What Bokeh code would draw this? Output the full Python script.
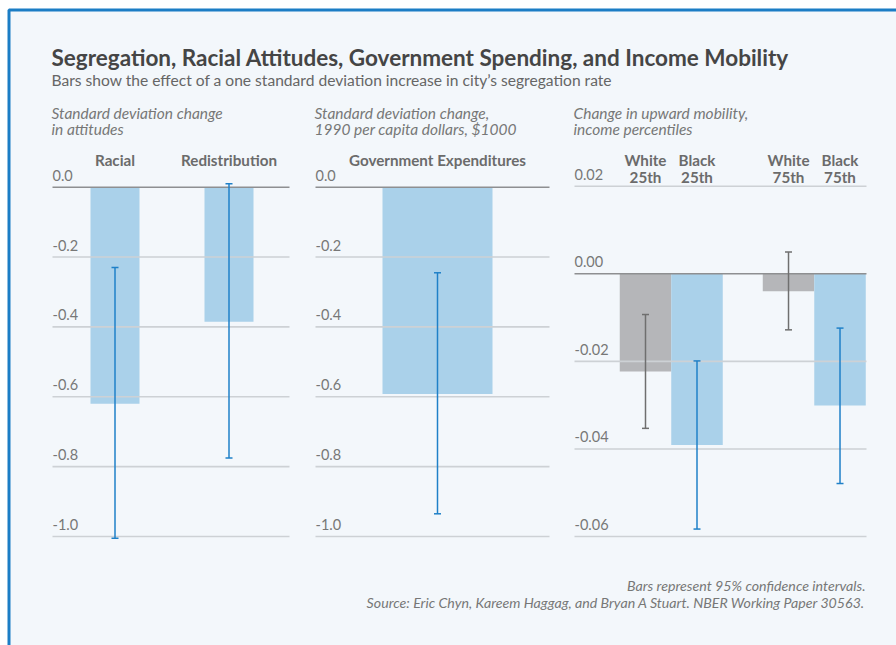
from bokeh.plotting import figure
from bokeh.models import Range1d, Label
from bokeh.core.properties import value
from bokeh.embed import file_html
from bokeh.resources import INLINE

# ---------------- data ----------------
title = "Segregation, Racial Attitudes, Government Spending, and Income Mobility"
subtitle = "Bars show the effect of a one standard deviation increase in city\u2019s segregation rate"
footer = ["Bars represent 95% confidence intervals.",
          "Source: Eric Chyn, Kareem Haggag, and Bryan A Stuart. NBER Working Paper 30563."]

p1_title = ["Standard deviation change", "in attitudes"]
p1_cats = ["Racial", "Redistribution"]
p1_vals = [-0.620, -0.385]
p1_lo = [-1.005, -0.775]
p1_hi = [-0.230, 0.010]
p1_ticks = [0.0, -0.2, -0.4, -0.6, -0.8, -1.0]
p1_tick_labels = ["0.0", "-0.2", "-0.4", "-0.6", "-0.8", "-1.0"]

p2_title = ["Standard deviation change,", "1990 per capita dollars, $1000"]
p2_cats = ["Government Expenditures"]
p2_vals = [-0.592]
p2_lo = [-0.935]
p2_hi = [-0.245]
p2_ticks = [0.0, -0.2, -0.4, -0.6, -0.8, -1.0]
p2_tick_labels = ["0.0", "-0.2", "-0.4", "-0.6", "-0.8", "-1.0"]

p3_title = ["Change in upward mobility,", "income percentiles"]
p3_race = ["White", "Black", "White", "Black"]
p3_pct = ["25th", "25th", "75th", "75th"]
p3_vals = [-0.0223, -0.0391, -0.0040, -0.0301]
p3_lo = [-0.0353, -0.0583, -0.0128, -0.0479]
p3_hi = [-0.0093, -0.0199, 0.0050, -0.0124]
p3_ticks = [0.02, 0.0, -0.02, -0.04, -0.06]
p3_tick_labels = ["0.02", "0.00", "-0.02", "-0.04", "-0.06"]

# ---------------- style / layout ----------------
W, H = 896, 645
BG = "#f3f7fb"
FRAME = "#1b7dc5"
BLUE_BAR = "#aad1ea"
GRAY_BAR = "#b5b6b9"
BLUE_ERR = "#1f80c8"
GRAY_ERR = "#6f6f6f"
ZERO = "#8e8f91"
GRID = "#cdd1d5"
FONT = "Lato"
DY = -7  # baseline correction for text placement

p = figure(width=W, height=H, x_range=Range1d(0, W), y_range=Range1d(H, 0),
           output_backend="svg", toolbar_location=None, min_border=0,
           outline_line_color=None, background_fill_color="white",
           border_fill_color="white")
p.axis.visible = False
p.grid.visible = False

# card background with blue frame (top / left visible)
p.quad(left=[8.5], right=[W + 20], top=[9.5], bottom=[H + 20],
       fill_color=BG, line_color=FRAME, line_width=3)

def txt(x, y, s, size, color, style="normal", align="left"):
    p.add_layout(Label(x=x, y=y + DY, text=s, text_font=FONT, text_font_size=size,
                       text_font_style=style, text_color=color,
                       text_align=align, text_baseline="alphabetic"))

txt(51, 64, title, "22.5px", "#454545", "bold")
txt(51, 86, subtitle, "15.6px", "#666666")
txt(865, 591.5, footer[0], "14.2px", "#777777", "italic", "right")
txt(865, 609.3, footer[1], "14.2px", "#777777", "italic", "right")

panels = [
    dict(name="p1", x0=52, x1=289, zero=186.7, k=349.3, c0=114.5, step=114.0, bw=49.0,
         pos=[0, 1], vals=p1_vals, lo=p1_lo, hi=p1_hi, ticks=p1_ticks, tl=p1_tick_labels,
         title=p1_title, labels=[[c] for c in p1_cats],
         colors=[BLUE_BAR] * 2, ecolors=[BLUE_ERR] * 2),
    dict(name="p2", x0=315, x1=549, zero=186.7, k=349.3, c0=437.0, step=110.0, bw=110.0,
         pos=[0], vals=p2_vals, lo=p2_lo, hi=p2_hi, ticks=p2_ticks, tl=p2_tick_labels,
         title=p2_title, labels=[[c] for c in p2_cats],
         colors=[BLUE_BAR], ecolors=[BLUE_ERR]),
    dict(name="p3", x0=574, x1=866, zero=273.3, k=262.7 / 0.06, c0=645.0, step=51.5, bw=51.5,
         pos=[i + 0.777 * (i // 2) for i in range(4)], vals=p3_vals, lo=p3_lo, hi=p3_hi,
         ticks=p3_ticks, tl=p3_tick_labels, title=p3_title,
         labels=[[r, g] for r, g in zip(p3_race, p3_pct)],
         colors=[GRAY_BAR if r == "White" else BLUE_BAR for r in p3_race],
         ecolors=[GRAY_ERR if r == "White" else BLUE_ERR for r in p3_race]),
]

for pn in panels:
    xn, yn = pn["name"] + "x", pn["name"] + "y"
    p.extra_x_ranges[xn] = Range1d(-pn["c0"] / pn["step"], (W - pn["c0"]) / pn["step"])
    p.extra_y_ranges[yn] = Range1d((pn["zero"] - H) / pn["k"], pn["zero"] / pn["k"])

    # panel subtitle (italic, two lines)
    txt(pn["x0"] - 1, 119, pn["title"][0], "15.5px", "#777777", "italic")
    txt(pn["x0"] - 1, 135.5, pn["title"][1], "15.5px", "#777777", "italic")

    # bars
    p.vbar(x=pn["pos"], top=0, bottom=pn["vals"], width=pn["bw"] / pn["step"],
           fill_color=pn["colors"], line_color=None,
           x_range_name=xn, y_range_name=yn)

    # grid lines (drawn over the bars)
    gcol = [ZERO if t == 0 else GRID for t in pn["ticks"]]
    p.segment(x0=pn["x0"], x1=pn["x1"], y0=pn["ticks"], y1=pn["ticks"],
              line_color=gcol, line_width=1.6, y_range_name=yn)

    # tick labels above grid lines
    p.text(x=pn["x0"], y=pn["ticks"], text=pn["tl"], y_offset=-5 + DY,
           text_font=value(FONT), text_font_size="14.5px", text_color="#777777",
           text_baseline="alphabetic", text_align="left", y_range_name=yn)

    # category labels
    nlines = max(len(l) for l in pn["labels"])
    base = 166.7 if nlines == 1 else 183.3
    for li in range(nlines):
        ys = [base + DY - 16.6 * (nlines - 1 - li)] * len(pn["pos"])
        p.text(x=pn["pos"], y=ys, text=[l[li] for l in pn["labels"]],
               text_font=value(FONT), text_font_style="bold", text_font_size="15.2px",
               text_color="#6b6b6b", text_align="center", text_baseline="alphabetic",
               x_range_name=xn)

    # error bars: stems + caps
    p.segment(x0=pn["pos"], x1=pn["pos"], y0=pn["lo"], y1=pn["hi"],
              line_color=pn["ecolors"], line_width=1.5,
              x_range_name=xn, y_range_name=yn)
    for ys in (pn["lo"], pn["hi"]):
        p.scatter(x=pn["pos"], y=ys, marker="dash", size=7, line_width=1.5,
                  line_color=pn["ecolors"], x_range_name=xn, y_range_name=yn)

open("out.html", "w").write(file_html(p, INLINE))
